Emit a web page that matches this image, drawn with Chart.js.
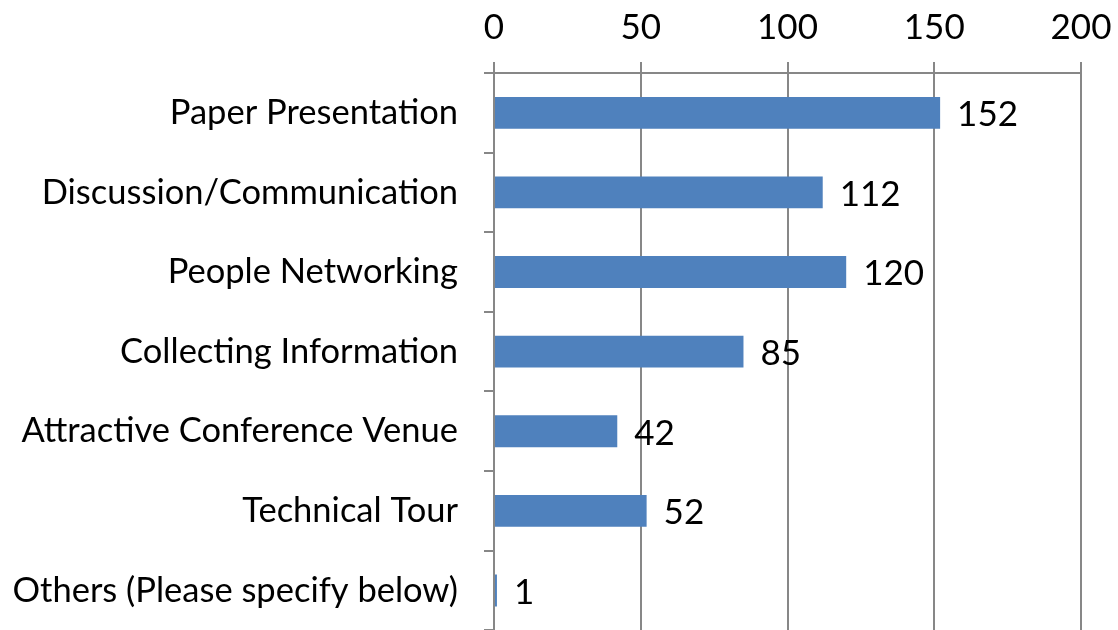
<!DOCTYPE html>
<html>
<head>
<meta charset="utf-8">
<script src="https://cdn.jsdelivr.net/npm/chart.js@4/dist/chart.umd.min.js"></script>
<style>
  html, body { margin: 0; padding: 0; background: #fff; overflow: hidden; }
  #wrap { width: 1118px; height: 677px; position: relative; }
</style>
</head>
<body>
<div id="wrap"><canvas id="chart"></canvas></div>
<script>
const categories = [
  "Paper Presentation",
  "Discussion/Communication",
  "People Networking",
  "Collecting Information",
  "Attractive Conference Venue",
  "Technical Tour",
  "Others (Please specify below)"
];
const responses = [152, 112, 120, 85, 42, 52, 1];
const xTicks = [0, 50, 100, 150, 200];

const barColor = "#4F81BD";
const gridColor = "#878787";
const fontFamily = "Lato, 'Open Sans', sans-serif";

// value labels to the right of each bar
const valueLabels = {
  id: "valueLabels",
  afterDatasetsDraw(chart) {
    const ctx = chart.ctx;
    const meta = chart.getDatasetMeta(0);
    ctx.save();
    ctx.font = `35px ${fontFamily}`;
    ctx.fillStyle = "#000";
    ctx.textAlign = "left";
    ctx.textBaseline = "middle";
    meta.data.forEach((bar, i) => {
      ctx.fillText(String(responses[i]), bar.x + 17, bar.y + 2);
    });
    ctx.restore();
  }
};

new Chart(document.getElementById("chart"), {
  type: "bar",
  data: {
    labels: categories,
    datasets: [{
      data: responses,
      backgroundColor: barColor,
      borderWidth: 0,
      barPercentage: 0.4,
      categoryPercentage: 1
    }]
  },
  options: {
    indexAxis: "y",
    responsive: true,
    maintainAspectRatio: false,
    animation: false,
    layout: { padding: 0 },
    plugins: {
      legend: { display: false },
      tooltip: { enabled: false }
    },
    scales: {
      x: {
        position: "top",
        min: 0,
        max: 200,
        afterBuildTicks: axis => { axis.ticks = xTicks.map(v => ({ value: v })); },
        afterFit: scale => {
          scale.height = 73;
          scale.paddingLeft = 0;
          scale.paddingRight = 37;
        },
        grid: {
          color: gridColor,
          lineWidth: 2,
          tickLength: 11,
          drawTicks: true
        },
        border: { display: true, color: gridColor, width: 2 },
        ticks: {
          color: "#000",
          font: { family: fontFamily, size: 35 },
          padding: 13
        }
      },
      y: {
        offset: true,
        afterFit: scale => { scale.width = 494; },
        grid: {
          offset: true,
          drawOnChartArea: false,
          color: gridColor,
          lineWidth: 2,
          tickLength: 10
        },
        border: { display: true, color: gridColor, width: 2 },
        ticks: {
          color: "#000",
          font: { family: fontFamily, size: 34.5 },
          padding: 26,
          autoSkip: false
        }
      }
    }
  },
  plugins: [valueLabels]
});
</script>
</body>
</html>
